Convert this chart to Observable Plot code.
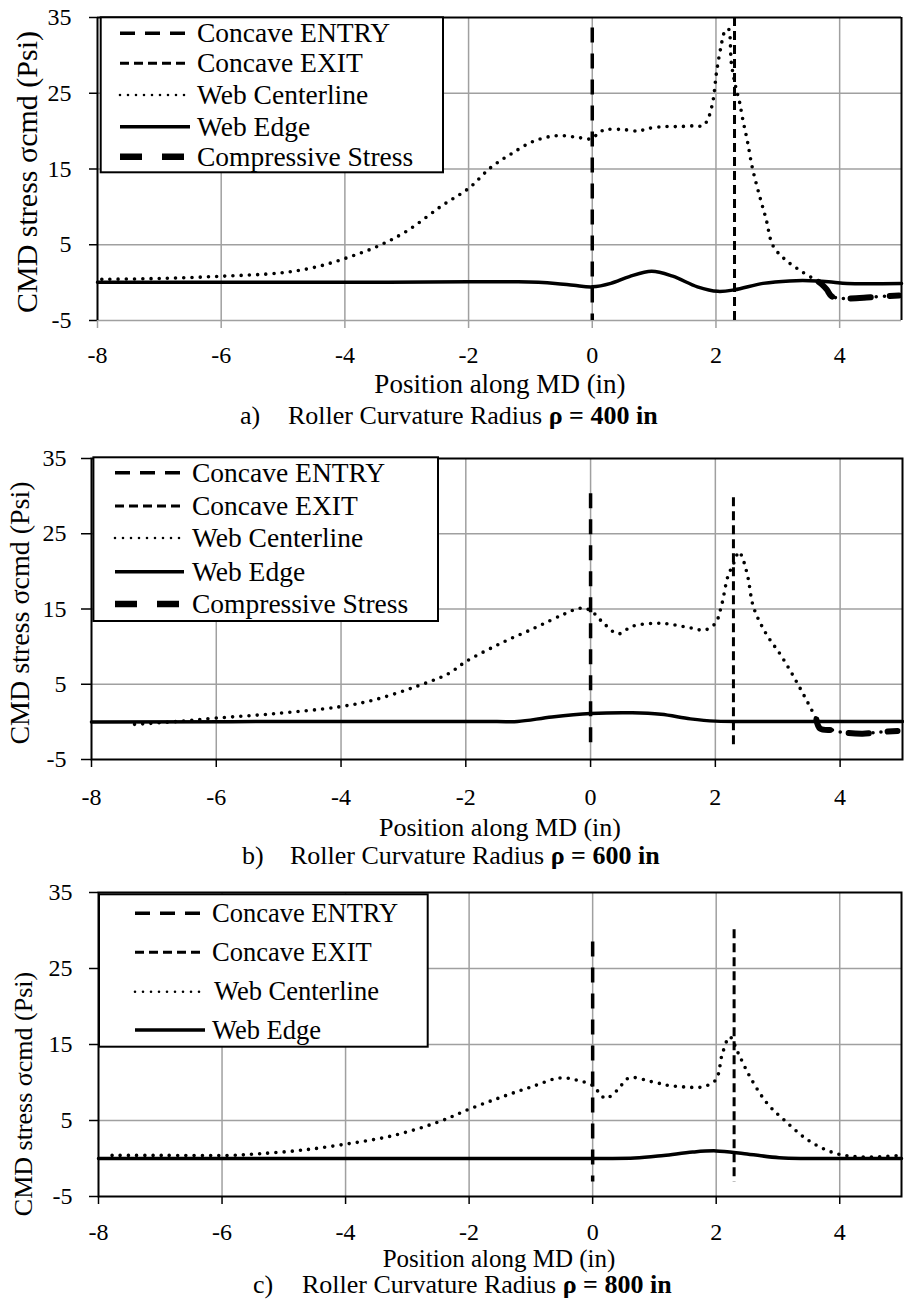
<!DOCTYPE html>
<html>
<head>
<meta charset="utf-8">
<script src="https://cdn.jsdelivr.net/npm/d3@7"></script>
<script src="https://cdn.jsdelivr.net/npm/@observablehq/plot@0.6"></script>
<style>
  body { margin: 0; background: #fff; }
  #root { position: relative; width: 904px; height: 1301px; overflow: hidden; background: #fff;
          font-family: "Liberation Serif", "DejaVu Serif", serif; color: #000; }
  #root > svg { position: absolute; left: 0; }
</style>
</head>
<body>
<div id="root"></div>
<script>
// ---------- data ----------
const xTicks = [-8, -6, -4, -2, 0, 2, 4];
const yTicks = [-5, 5, 15, 25, 35];
const xGridVals = [-6, -4, -2, 0, 2, 4];
const legendLabels = ["Concave ENTRY", "Concave EXIT", "Web Centerline", "Web Edge", "Compressive Stress"];
const yLabel = "CMD stress σcmd (Psi)";
const xLabel = "Position along MD (in)";
const captionTags = ["a)", "b)", "c)"];
const captionRadius = ["400", "600", "800"];

// panel a (rho = 400 in)
const aCenterX = [-7.93,-7,-6,-5.06,-4.5,-3.97,-3.47,-3,-2.44,-1.99,-1.64,-1.31,-0.94,-0.57,-0.26,0,0.1,0.23,0.5,0.75,0.88,1.14,1.41,1.65,1.79,1.87,1.95,2.01,2.08,2.14,2.2,2.25,2.32,2.38,2.43,2.51,2.59,2.7,2.81,2.92,3.11,3.36,3.63,3.72,3.79,3.87,4.0,4.12,4.39,4.61,4.96];
const aCenterY = [0.43,0.55,0.84,1.27,2.0,3.27,4.8,6.8,10.1,12.5,15.2,17.0,18.7,19.4,19.2,19.0,19.8,20.2,20.2,20.0,20.3,20.6,20.6,20.7,20.7,21.6,23.9,27.8,31.1,33.1,33.5,28.9,25.8,23.9,21.7,18.6,15.1,11.6,8.4,4.9,3.1,1.6,0.23,-0.3,-0.9,-1.8,-2.05,-2.1,-2.0,-1.85,-1.7];
const aEdgeX = [-8,-6,-4,-2,-1.2,-0.6,-0.3,0,0.3,0.6,0.96,1.3,1.7,2.03,2.3,2.76,3.19,3.63,3.9,4.12,5];
const aEdgeY = [0.05,0.05,0.05,0.1,0.1,-0.1,-0.35,-0.56,-0.1,0.8,1.5,0.85,-0.55,-1.15,-0.95,-0.1,0.23,0.23,0.05,-0.1,-0.1];
const aCompX = [3.66,3.72,3.79,3.87,4.0,4.12,4.39,4.61,4.96];
const aCompY = [0.1,-0.3,-0.9,-1.8,-2.05,-2.1,-2.0,-1.85,-1.7];
const aEntry = {x: 0, y1: 33.6, y2: -5};
const aExit = {x: 2.3, y1: 35, y2: -5};

// panel b (rho = 600 in)
const bCenterX = [-7.31,-6.7,-6.01,-5.05,-4.03,-3.48,-2.83,-2.28,-2.0,-1.45,-0.89,-0.43,-0.16,0,0.21,0.44,0.67,1.13,1.6,1.83,2.0,2.1,2.2,2.29,2.38,2.43,2.52,2.61,2.8,3.07,3.35,3.62,3.68,3.9,4.0,4.36,4.64,4.92];
const bCenterY = [-0.33,0.0,0.5,1.1,2.0,2.9,4.6,6.4,8.0,10.4,12.5,14.3,15.1,14.8,13.1,11.7,12.7,13.1,12.5,12.2,13.1,15.5,19.3,21.0,22.6,21.9,19.3,15.3,11.9,8.6,4.6,0.3,-0.9,-1.1,-1.35,-1.57,-1.35,-1.2];
const bEdgeX = [-8,-4,-1.5,-1.17,-0.62,0,0.67,1.13,1.6,2.0,3,5];
const bEdgeY = [0,0.05,0.05,0.05,0.65,1.1,1.2,1.0,0.4,0.1,0.05,0.05];
const bCompX = [3.62,3.68,3.9,4.0,4.36,4.64,4.92];
const bCompY = [0.3,-0.9,-1.1,-1.35,-1.57,-1.35,-1.2];
const bEntry = {x: 0, y1: 30.3, y2: -3.1};
const bExit = {x: 2.29, y1: 29.8, y2: -3.1};

// panel c (rho = 800 in)
const cCenterX = [-7.78,-7,-5.86,-5.39,-4.74,-4.02,-3.24,-2.5,-1.98,-1.47,-1.0,-0.53,-0.25,0,0.12,0.21,0.4,0.59,0.96,1.24,1.52,1.76,1.99,2.1,2.22,2.36,2.55,2.83,3.11,3.49,3.95,4.42,4.98];
const cCenterY = [0.41,0.41,0.41,0.63,1.07,1.86,3.0,4.8,6.55,8.1,9.4,10.6,10.3,9.6,8.5,7.9,9.0,10.6,10.1,9.6,9.4,9.4,10.3,13.8,16.0,13.8,10.7,7.2,5.0,2.4,0.63,0.19,0.41];
const cEdgeX = [-8,-4,0,0.68,1.15,1.62,2.0,2.46,3.02,3.49,5];
const cEdgeY = [0,0,0,0.05,0.4,0.85,1.0,0.63,0.1,0,0];
const cEntry = {x: 0, y1: 28.5, y2: -3.1};
const cExit = {x: 2.29, y1: 30.1, y2: -3.1};

// ---------- drawing ----------
const FONT = "'Liberation Serif', 'DejaVu Serif', serif";
const root = document.getElementById("root");
const GRID = "#a0a0a0";
const fmt = d => String(d);
const zip = (xs, ys) => xs.map((x, i) => ({x, y: ys[i]}));

function panel(p) {
  const marks = [
    Plot.gridX(xGridVals, {stroke: GRID, strokeOpacity: 1, strokeWidth: 1.5}),
    Plot.gridY(p.gridY, {stroke: GRID, strokeOpacity: 1, strokeWidth: 1.5}),
    Plot.line(zip(p.ex, p.ey), {x: "x", y: "y", stroke: "black", strokeWidth: 3.5, curve: "catmull-rom"}),
    Plot.line(zip(p.cx, p.cy), {x: "x", y: "y", stroke: "black", strokeWidth: 3.6,
      strokeDasharray: "0,8.2", strokeLinecap: "round", curve: "catmull-rom"}),
    p.compX ? Plot.line(zip(p.compX, p.compY), {x: "x", y: "y", stroke: "black", strokeWidth: 6,
      strokeDasharray: "20,19", curve: "catmull-rom"}) : null,
    Plot.ruleX([p.entry], {x: "x", y1: "y1", y2: "y2", stroke: "black", strokeWidth: 3.5, strokeDasharray: "15,11"}),
    Plot.ruleX([p.exit], {x: "x", y1: "y1", y2: "y2", stroke: "black", strokeWidth: 3, strokeDasharray: "9,5"}),
    Plot.axisY(yTicks, {tickSize: p.yts, tickPadding: p.ytp, tickFormat: fmt, label: null, strokeWidth: 1.5}),
    Plot.axisX(xTicks, {tickSize: 8, tickPadding: p.xtp, tickFormat: fmt, label: null,
      stroke: p.xTickColor, strokeWidth: 1.5}),
    ...p.frame
  ].filter(Boolean);
  const svg = Plot.plot({
    width: 904, height: p.height,
    marginLeft: p.ml, marginRight: p.mr, marginTop: p.mt, marginBottom: p.mb,
    x: {domain: [-8, 5]},
    y: {domain: [-5, 35]},
    style: {fontFamily: FONT, fontSize: "24px",
            color: "black", background: "transparent", overflow: "visible"},
    marks
  });
  svg.style.top = p.top + "px";
  root.appendChild(svg);
}

panel({top: 0, height: 380, ml: 97, mr: 3, mt: 17, mb: 60, yts: 8, ytp: 18, xtp: 17, xTickColor: GRID,
  gridY: [-5, 5, 15, 25], cx: aCenterX, cy: aCenterY, ex: aEdgeX, ey: aEdgeY, compX: aCompX, compY: aCompY,
  entry: aEntry, exit: aExit,
  frame: [Plot.ruleX([-8, 5], {stroke: "black", strokeWidth: 2}), Plot.ruleY([35], {stroke: "black", strokeWidth: 2})]});

panel({top: 438, height: 381, ml: 91, mr: 2, mt: 20, mb: 60, yts: 10, ytp: 15, xtp: 20, xTickColor: "black",
  gridY: [5, 15, 25], cx: bCenterX, cy: bCenterY, ex: bEdgeX, ey: bEdgeY, compX: bCompX, compY: bCompY,
  entry: bEntry, exit: bExit,
  frame: [Plot.frame({stroke: "black", strokeWidth: 2})]});

panel({top: 872, height: 384, ml: 98, mr: 3, mt: 20, mb: 60, yts: 9, ytp: 17, xtp: 18, xTickColor: "black",
  gridY: [5, 15, 25], cx: cCenterX, cy: cCenterY, ex: cEdgeX, ey: cEdgeY,
  entry: cEntry, exit: cExit,
  frame: [Plot.frame({stroke: "black", strokeWidth: 2})]});

// ---------- legends, axis titles, captions (overlay) ----------
const ov = d3.select(root).append("svg")
  .attr("width", 904).attr("height", 1301)
  .style("top", "0px").style("pointer-events", "none")
  .style("font-family", FONT);

const legendStyles = [
  {w: 3.5, dash: "15,10", cap: "butt"},
  {w: 3, dash: "9,5", cap: "butt"},
  {w: 2.6, dash: "0,8", cap: "round"},
  {w: 3.5, dash: null, cap: "butt"},
  {w: 6.5, dash: "22,20", cap: "butt"}
];

function legend(L) {
  const g = ov.append("g");
  g.append("rect").attr("x", L.box[0]).attr("y", L.box[1])
    .attr("width", L.box[2] - L.box[0]).attr("height", L.box[3] - L.box[1])
    .attr("fill", "white").attr("stroke", "black").attr("stroke-width", 2);
  L.rows.forEach((ry, i) => {
    const s = legendStyles[i];
    const ln = g.append("line").attr("x1", L.sx0).attr("x2", L.sx1).attr("y1", ry).attr("y2", ry)
      .attr("stroke", "black").attr("stroke-width", s.w).attr("stroke-linecap", s.cap);
    if (s.dash) ln.attr("stroke-dasharray", s.dash);
    g.append("text").attr("x", L.tx + (L.txo && L.txo[i] || 0)).attr("y", ry + 0.33 * L.fs)
      .attr("font-size", L.fs).text(legendLabels[i]);
  });
}
legend({box: [100.7, 17.3, 443, 172.3], sx0: 120, sx1: 190, tx: 197, fs: 27.5, rows: [33.3, 63.3, 95, 126.7, 156.7]});
legend({box: [93.4, 457.3, 438, 621], sx0: 115, sx1: 184, tx: 192, fs: 27.5, rows: [472.7, 506, 538, 571.7, 604]});
legend({box: [99, 894.3, 427.7, 1046.7], sx0: 135, sx1: 205, tx: 212, fs: 26.5, txo: [0, 0, 2, 0], rows: [913.3, 952.3, 991.7, 1030]});

// y-axis titles
[[37, 172, 30], [29, 613, 28], [32, 1094, 26]].forEach(([bx, cy, fs]) => {
  ov.append("text").attr("transform", `translate(${bx},${cy}) rotate(-90)`)
    .attr("text-anchor", "middle").attr("font-size", fs).text(yLabel);
});
// x-axis titles
[[500, 384, 27], [500, 827, 26], [499, 1259, 25]].forEach(([cx, cy, fs]) => {
  ov.append("text").attr("x", cx).attr("y", cy + 0.33 * fs)
    .attr("text-anchor", "middle").attr("font-size", fs).text(xLabel);
});
// captions
[[240, 288, 415], [242, 290, 855], [253, 302, 1284]].forEach(([tx, rx, cy], i) => {
  const fs = 26;
  ov.append("text").attr("x", tx).attr("y", cy + 0.33 * fs).attr("font-size", fs).text(captionTags[i]);
  const t = ov.append("text").attr("x", rx).attr("y", cy + 0.33 * fs).attr("font-size", fs);
  t.append("tspan").text("Roller Curvature Radius ");
  t.append("tspan").attr("font-weight", "bold").text(`ρ = ${captionRadius[i]} in`);
});
</script>
</body>
</html>
